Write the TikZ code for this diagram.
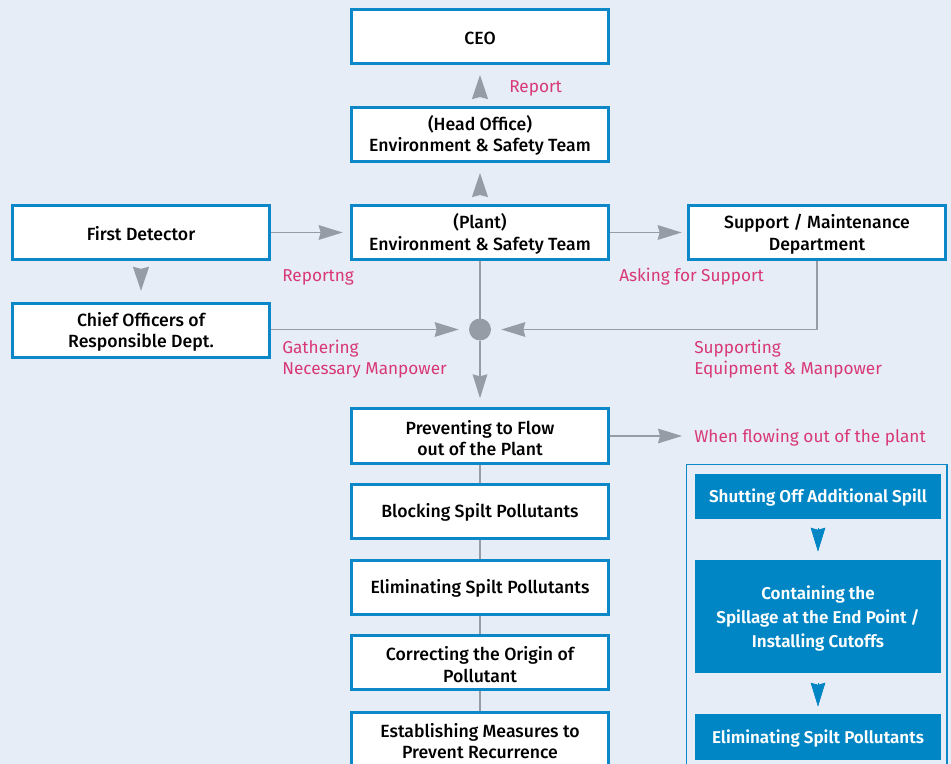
\documentclass[tikz,border=0pt]{standalone}
\usepackage{fontspec}
\setmainfont{Fira Sans}
\newfontfamily\medfont{Fira Sans Medium}
\newfontfamily\semifont{Fira Sans SemiBold}
\usetikzlibrary{arrows.meta,calc}

\definecolor{bg}{RGB}{230,237,247}
\definecolor{boxblue}{RGB}{12,136,201}
\definecolor{fillblue}{RGB}{0,134,197}
\definecolor{arrowgray}{RGB}{150,156,165}
\definecolor{labelpink}{RGB}{217,56,119}

% invisible strut that lowers the first text line a little
\newcommand{\topstrut}{\rule{0pt}{13.5pt}}

\tikzset{
  wbox/.style={draw=boxblue, line width=2.25pt, fill=white,
    minimum width=192.75pt, minimum height=40.5pt, inner sep=0pt,
    align=center, font=\medfont\fontsize{13.25}{16.25}\selectfont,
    execute at begin node={\rule{0pt}{12.5pt}}},
  bbox/.style={fill=fillblue, text=white, minimum width=184.5pt, inner sep=0pt,
    align=center, font=\semifont\fontsize{12.8}{18}\selectfont,
    execute at begin node={\rule{0pt}{12pt}}},
  lbl/.style={text=labelpink, anchor=west, inner sep=0pt, align=left,
    font=\fontsize{12.9}{15.75}\selectfont},
  conn/.style={draw=arrowgray, line width=1pt},
  arr/.style={conn, -{Stealth[length=18pt, width=11pt, inset=1.5pt]}},
  tri/.style={conn, -{Stealth[length=18pt, width=12pt, inset=1.5pt]}},
  btri/.style={draw=fillblue, line width=0.5pt,
    -{Stealth[length=18pt, width=11pt, inset=1.5pt, fill=fillblue]}},
}

\begin{document}
\begin{tikzpicture}[x=0.75pt, y=-0.75pt]
  \useasboundingbox (0,0) rectangle (951,764);
  \clip (0,0) rectangle (951,764);
  \fill[bg] (0,0) rectangle (951,764);

  % management chain
  \node[wbox] (ceo)   at (480,36)    {CEO};
  \node[wbox] (ho)    at (480,134)   {\topstrut(Head Office)\\Environment \& Safety Team};
  \node[wbox] (plant) at (480,232.5) {\topstrut(Plant)\\Environment \& Safety Team};
  \node[wbox] (fd)    at (141,232.5) {First Detector};
  \node[wbox] (chief) at (141,330)   {\topstrut Chief Officers of\\Responsible Dept.};
  \node[wbox] (sup)   at (817,232.5) {\topstrut Support / Maintenance\\Department};

  % gathering point
  \coordinate (hub) at (480,329.5);
  \fill[arrowgray] (hub) circle[radius=8.25pt];

  % response steps
  \node[wbox, minimum height=41.25pt] (prev) at (480,436) {\topstrut Preventing to Flow\\out of the Plant};
  \node[wbox] (block) at (480,511.5) {Blocking Spilt Pollutants};
  \node[wbox] (elim)  at (480,587.5) {Eliminating Spilt Pollutants};
  \node[wbox] (corr)  at (480,662.5) {\topstrut Correcting the Origin of\\Pollutant};
  \node[wbox] (estab) at (480,739)   {\topstrut Establishing Measures to\\Prevent Recurrence};

  % labels
  \node[lbl] at (509,88)  {Report};
  \node[lbl] at (282,277) {Reportng};
  \node[lbl] at (619,277) {Asking for Support};
  \node[lbl] at (282,359.5) {Gathering\\Necessary Manpower};
  \node[lbl] at (694,359.5) {Supporting\\Equipment \& Manpower};
  \node[lbl] (flowlbl) at (694,437.5) {When flowing out of the plant};

  % connectors
  \draw[tri, shorten <=7.9pt, shorten >=7.9pt] (ho.north) -- (ceo.south);
  \draw[tri, shorten <=7.9pt, shorten >=7.9pt] (plant.north) -- (ho.south);
  \draw[tri, shorten <=7pt, shorten >=8pt] (fd.south) -- (chief.north);
  \draw[arr, shorten >=5.5pt] (fd.east) -- (plant.west);
  \draw[arr, shorten >=4pt] (plant.east) -- (sup.west);
  \draw[conn] (plant.south) -- (hub);
  \draw[arr, shorten >=16pt] (chief.east |- hub) -- (hub);
  \draw[arr, shorten >=16pt] (sup.south) |- (hub);
  \draw[arr, shorten <=8.25pt, shorten >=6.5pt] (hub) -- (prev.north);
  \draw[arr, shorten >=9pt] (prev.east) -- (prev.east -| flowlbl.west);
  \draw[conn] (prev.south) -- (block.north);
  \draw[conn] (block.south) -- (elim.north);
  \draw[conn] (elim.south) -- (corr.north);
  \draw[conn] (corr.south) -- (estab.north);

  % off-site response panel
  \draw[boxblue, line width=0.9pt] (686.5,464.5) rectangle (947,790);
  \node[bbox, minimum height=33.75pt] (shut) at (818,496.5) {Shutting Off Additional Spill};
  \node[bbox, minimum height=84.75pt] (cont) at (818,616.5) {\rule{0pt}{13pt}Containing the\\Spillage at the End Point /\\Installing Cutoffs};
  \node[bbox, minimum height=34.5pt] (elim2) at (818,737) {Eliminating Spilt Pollutants};
  \draw[btri, shorten <=6.75pt, shorten >=6pt] (shut.south) -- (cont.north);
  \draw[btri, shorten <=7.5pt, shorten >=5.25pt] (cont.south) -- (elim2.north);
\end{tikzpicture}
\end{document}
